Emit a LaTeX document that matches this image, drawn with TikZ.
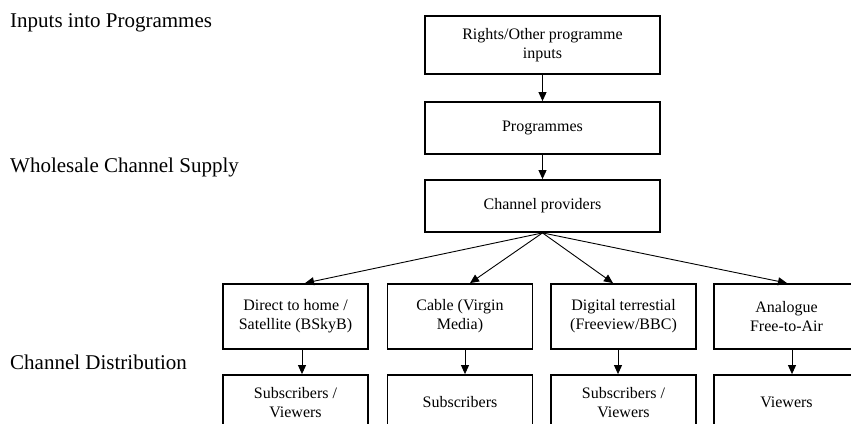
\documentclass[tikz,border=0pt]{standalone}
\usepackage{fontspec}
\setmainfont{Liberation Serif}
\usetikzlibrary{arrows.meta}
\begin{document}
\begin{tikzpicture}[x=1pt,y=-1pt,
  box/.style={draw,line width=1.8pt,minimum width=145pt,align=center,inner sep=0pt,font=\fontsize{16}{19}\selectfont},
  topbox/.style={box,minimum width=235pt,minimum height=52pt},
  arr/.style={line width=0.9pt,-{Triangle[length=9pt,width=8pt]}},
  lab/.style={anchor=west,inner sep=0pt,font=\fontsize{21}{25}\selectfont}]
\path[use as bounding box] (0,0) rectangle (851,423);
\clip (0,0) rectangle (851,423);
\node[lab] (l1) at (10,23) {Inputs into Programmes};
\node[lab] (l2) at (10,167) {Wholesale Channel Supply};
\node[lab] (l3) at (10,362) {Channel Distribution};
\node[topbox,minimum height=58pt] (rights) at (542.5,45) {Rights/Other programme\\inputs};
\node[topbox] (prog) at (542.5,128) {Programmes};
\node[topbox] (cp) at (542.5,206) {Channel providers};
\foreach \n/\x/\t in {b1/295.5/{Direct to home /\\Satellite (BSkyB)},
                      b2/460/{Cable (Virgin\\Media)},
                      b3/623.5/{Digital terrestial\\(Freeview/BBC)},
                      b4/786.5/{Analogue\\Free-to-Air}}
  \node[box,minimum height=65pt] (\n) at (\x,316.5) {\t};
\foreach \n/\x/\t in {s1/295.5/{Subscribers /\\Viewers},
                      s2/460/{Subscribers},
                      s3/623.5/{Subscribers /\\Viewers},
                      s4/786.5/{Viewers}}
  \node[box,minimum height=55pt] (\n) at (\x,402.5) {\t};
\draw[arr] (rights) -- (prog);
\draw[arr] (prog) -- (cp);
\draw[arr] (cp.south) -- ([xshift=9.5pt]b1.north);
\draw[arr] (cp.south) -- ([xshift=10pt]b2.north);
\draw[arr] (cp.south) -- ([xshift=-10.5pt]b3.north);
\draw[arr] (cp.south) -- ([xshift=0.5pt]b4.north);
\draw[arr] ([xshift=6.5pt]b1.south) -- ([xshift=6.5pt]s1.north);
\draw[arr] ([xshift=5pt]b2.south) -- ([xshift=5pt]s2.north);
\draw[arr] ([xshift=-5.5pt]b3.south) -- ([xshift=-5.5pt]s3.north);
\draw[arr] ([xshift=5.5pt]b4.south) -- ([xshift=5.5pt]s4.north);
\end{tikzpicture}
\end{document}
